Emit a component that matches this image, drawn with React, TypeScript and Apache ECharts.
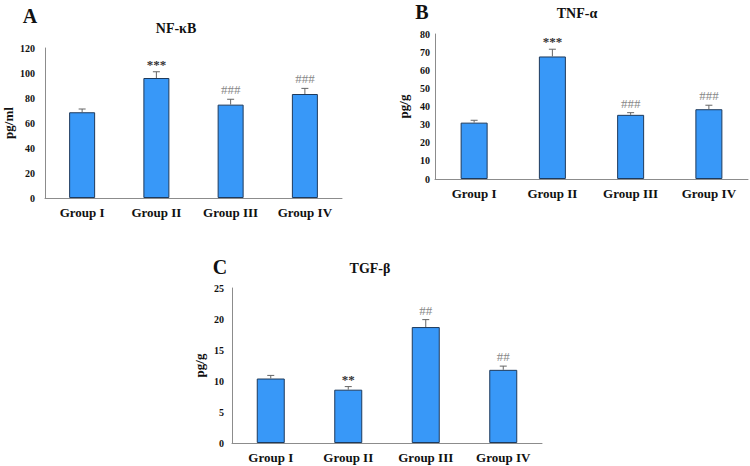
import React, { useEffect, useRef } from "react";
import * as echarts from "echarts";

const categories = ["Group I", "Group II", "Group III", "Group IV"];

const meansA = [68.6, 96, 74.7, 83.2];
const errA = [2.6, 5, 4.3, 4.5];
const sigA = ["", "***", "###", "###"];

const meansB = [31.1, 67.6, 35.4, 38.5];
const errB = [1.3, 4, 1.2, 2.2];
const sigB = ["", "***", "###", "###"];

const meansC = [10.4, 8.6, 18.7, 11.8];
const errC = [0.5, 0.5, 1.2, 0.6];
const sigC = ["", "**", "##", "##"];

const FONT = "'Liberation Serif', 'Times New Roman', serif";
const BAR = "#3898F8";
const BAR_BORDER = "#1E3A5C";
const AXIS = "#8C8C8C";

function errSeries(idx: number, means: number[], errs: number[], sig: string[]) {
  return {
    type: "custom",
    xAxisIndex: idx,
    yAxisIndex: idx,
    z: 5,
    data: means.map((m, i) => [i, m, m + errs[i]]),
    renderItem: (params: any, api: any) => {
      const base = api.coord([api.value(0), api.value(1)]);
      const top = api.coord([api.value(0), api.value(2)]);
      const s = sig[params.dataIndex];
      const children: any[] = [
        {
          type: "line",
          shape: { x1: base[0], y1: base[1], x2: top[0], y2: top[1] },
          style: { stroke: "#666", lineWidth: 1 },
        },
        {
          type: "line",
          shape: { x1: top[0] - 3.5, y1: top[1], x2: top[0] + 3.5, y2: top[1] },
          style: { stroke: "#666", lineWidth: 1 },
        },
      ];
      if (s) {
        const isStar = s.indexOf("*") >= 0;
        children.push({
          type: "text",
          x: top[0],
          y: top[1] - (isStar ? 1 : 3),
          style: {
            text: s,
            fontFamily: FONT,
            fontSize: isStar ? 13 : 13,
            fontWeight: isStar ? "bold" : "normal",
            fill: isStar ? "#333" : "#888",
            align: "center",
            verticalAlign: "bottom",
          },
        });
      }
      return { type: "group", children };
    },
  };
}

function barSeries(idx: number, means: number[], width: number) {
  return {
    type: "bar",
    xAxisIndex: idx,
    yAxisIndex: idx,
    barWidth: width,
    data: means,
    itemStyle: { color: BAR, borderColor: BAR_BORDER, borderWidth: 1 },
  };
}

function xAxisFor(idx: number) {
  return {
    type: "category",
    gridIndex: idx,
    data: categories,
    axisLine: { show: true, lineStyle: { color: AXIS, width: 1 } },
    axisTick: { show: false },
    axisLabel: {
      fontFamily: FONT,
      fontWeight: "bold",
      fontSize: 13,
      color: "#111",
      margin: 8,
    },
  };
}

function yAxisFor(idx: number, max: number, interval: number, name: string, gap: number, margin: number, fs: number) {
  return {
    type: "value",
    gridIndex: idx,
    min: 0,
    max,
    interval,
    name,
    nameLocation: "middle",
    nameRotate: 90,
    nameGap: gap,
    nameTextStyle: { fontFamily: FONT, fontWeight: "bold", fontSize: 13, color: "#111" },
    axisLine: { show: true, lineStyle: { color: AXIS, width: 1 } },
    axisTick: { show: false },
    splitLine: { show: false },
    axisLabel: {
      fontFamily: FONT,
      fontWeight: "bold",
      fontSize: fs,
      color: "#111",
      margin,
    },
  };
}

function txt(x: number, y: number, text: string, size: number) {
  return {
    type: "text",
    x,
    y,
    style: {
      text,
      fontFamily: FONT,
      fontWeight: "bold",
      fontSize: size,
      fill: "#111",
      align: "center",
      verticalAlign: "middle",
    },
  };
}

export default function App() {
  const ref = useRef<HTMLDivElement>(null);
  useEffect(() => {
    if (!ref.current) return;
    const chart = echarts.init(ref.current, undefined, { renderer: "svg" });
    chart.setOption({
      animation: false,
      backgroundColor: "#fff",
      grid: [
        { left: 45, top: 48, width: 297, height: 150 },
        { left: 435, top: 34, width: 313, height: 145 },
        { left: 232, top: 288, width: 310, height: 155 },
      ],
      xAxis: [xAxisFor(0), xAxisFor(1), xAxisFor(2)],
      yAxis: [
        yAxisFor(0, 120, 20, "pg/ml", 30, 10, 10),
        yAxisFor(1, 80, 10, "pg/g", 25, 5, 10),
        yAxisFor(2, 25, 5, "pg/g", 26, 8, 10),
      ],
      series: [
        barSeries(0, meansA, 26),
        errSeries(0, meansA, errA, sigA),
        barSeries(1, meansB, 27),
        errSeries(1, meansB, errB, sigB),
        barSeries(2, meansC, 28),
        errSeries(2, meansC, errC, sigC),
      ],
      graphic: [
        txt(30, 16, "A", 20),
        txt(176, 28, "NF-κB", 14),
        txt(422, 12, "B", 20),
        txt(577, 13, "TNF-α", 14),
        txt(220, 267, "C", 20),
        txt(370, 268, "TGF-β", 14),
      ],
    });
    return () => chart.dispose();
  }, []);
  return (
    <div
      ref={ref}
      style={{ position: "absolute", left: 0, top: 0, width: 750, height: 466 }}
    />
  );
}
